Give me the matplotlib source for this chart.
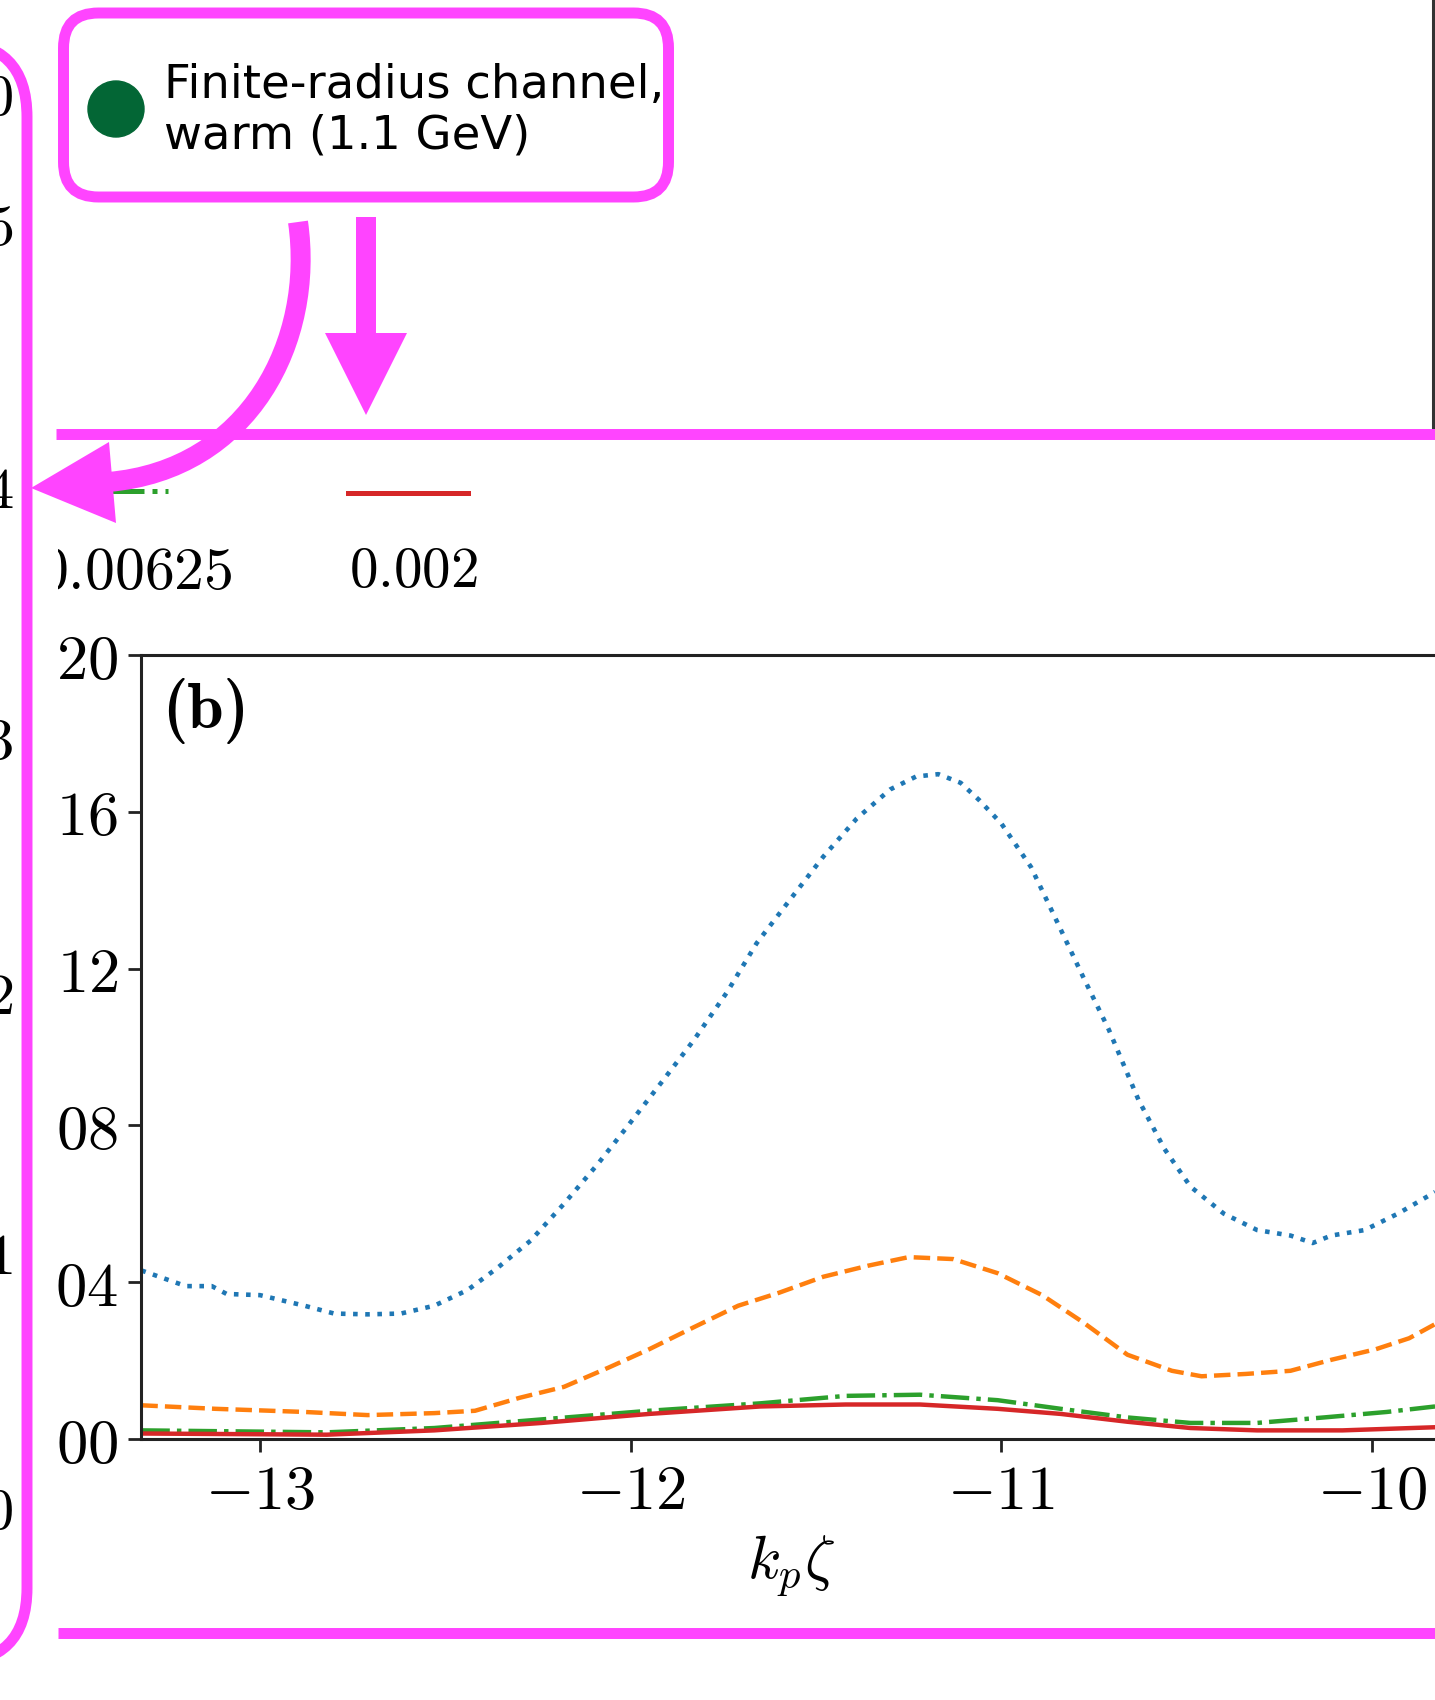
import matplotlib
matplotlib.use("Agg")
import matplotlib.pyplot as plt
from matplotlib.transforms import Affine2D
from matplotlib.patches import FancyBboxPatch, Polygon, Circle, PathPatch, Rectangle
from matplotlib.path import Path
from matplotlib.lines import Line2D

plt.rcParams['mathtext.fontset'] = 'cm'

# ---------------- data ----------------
blue_x = [-13.32, -13.26, -13.20, -13.13, -13.09, -13.00, -12.88, -12.80, -12.71, -12.62,
          -12.53, -12.44, -12.36, -12.27, -12.18, -12.09, -12.01, -11.92, -11.83, -11.74,
          -11.66, -11.57, -11.48, -11.39, -11.30, -11.23, -11.17, -11.11, -11.06, -11.00,
          -10.92, -10.85, -10.78, -10.71, -10.63, -10.56, -10.49, -10.40, -10.31, -10.22,
          -10.16, -10.11, -10.02, -9.93, -9.83]
blue_y = [0.043, 0.041, 0.039, 0.039, 0.037, 0.0367, 0.034, 0.032, 0.0318, 0.032,
          0.034, 0.038, 0.0436, 0.0506, 0.060, 0.070, 0.0796, 0.0906, 0.1017, 0.114,
          0.1265, 0.1376, 0.1486, 0.1583, 0.1657, 0.169, 0.1696, 0.1674, 0.163, 0.157,
          0.1459, 0.132, 0.118, 0.1044, 0.0865, 0.074, 0.0644, 0.0575, 0.0533, 0.0519,
          0.050, 0.0519, 0.0533, 0.0575, 0.063]

orange_x = [-13.32, -13.12, -12.88, -12.71, -12.53, -12.42, -12.30, -12.18, -12.06, -11.95,
            -11.83, -11.71, -11.60, -11.48, -11.36, -11.25, -11.13, -11.01, -10.89, -10.78,
            -10.66, -10.54, -10.46, -10.34, -10.22, -10.11, -9.99, -9.90, -9.83]
orange_y = [0.0086, 0.0077, 0.0069, 0.0061, 0.0066, 0.0072, 0.0105, 0.0133, 0.0182, 0.0229,
            0.0285, 0.034, 0.0373, 0.0414, 0.0442, 0.0464, 0.0459, 0.0423, 0.0367, 0.0298,
            0.0215, 0.0174, 0.016, 0.0166, 0.0174, 0.0202, 0.0229, 0.0257, 0.0293]

green_x = [-13.32, -12.82, -12.53, -12.24, -11.95, -11.65, -11.42, -11.22, -11.01, -10.84,
           -10.66, -10.49, -10.31, -10.13, -9.96, -9.83]
green_y = [0.0022, 0.0017, 0.0028, 0.005, 0.0072, 0.0091, 0.011, 0.0113, 0.0099, 0.0077,
           0.0055, 0.0041, 0.0041, 0.0055, 0.0069, 0.0083]

red_x = [-13.32, -12.82, -12.53, -12.24, -11.95, -11.65, -11.42, -11.22, -11.01, -10.84,
         -10.66, -10.49, -10.31, -10.08, -9.83]
red_y = [0.0014, 0.0011, 0.0022, 0.0041, 0.0064, 0.0083, 0.0088, 0.0088, 0.0077, 0.0064,
         0.0044, 0.0028, 0.0022, 0.0022, 0.003]

xticks = [-13, -12, -11, -10]
xtick_labels = [r'$-13$', r'$-12$', r'$-11$', r'$-10$']
yticks = [0.0, 0.04, 0.08, 0.12, 0.16, 0.20]
ytick_labels = [r'$00$', r'$04$', r'$08$', r'$12$', r'$16$', r'$20$']
legend_labels = [r'$0.00625$', r'$0.002$']
left_cut_labels = [r'$0$', r'$5$', r'$4$', r'$3$', r'$2$', r'$1$', r'$0$']
box_text = "Finite-radius channel,\nwarm (1.1 GeV)"
panel_label = '(b)'
xlabel = r'$k_p\zeta$'

# ---------------- layout ----------------
W, H, DPI = 1435, 1700, 100
MAG = '#ff44ff'
fig = plt.figure(figsize=(W / DPI, H / DPI), dpi=DPI)
fig.patch.set_facecolor('white')
px = Affine2D().scale(1, -1).translate(0, H).scale(1 / DPI) + fig.dpi_scale_trans

ax = fig.add_axes([141 / W, 1 - 1439 / H, 1300 / W, 784 / H])
ax.plot(blue_x, blue_y, ls=':', color='#1f77b4', lw=3.3)
ax.plot(orange_x, orange_y, ls='--', color='#ff7f0e', lw=3.2)
ax.plot(green_x, green_y, ls='-.', color='#2ca02c', lw=3.2)
ax.plot(red_x, red_y, ls='-', color='#d62728', lw=3.2)
ax.set_xlim(-13.321, -9.814)
ax.set_ylim(0, 0.20)
ax.set_xticks(xticks)
ax.set_xticklabels(xtick_labels)
ax.set_yticks(yticks)
ax.set_yticklabels(ytick_labels)
ax.tick_params(direction='out', length=9.5, width=2.0, labelsize=45, pad=7,
               top=False, right=False, color='#222222')
for s in ax.spines.values():
    s.set_linewidth(2.2)
    s.set_color('#222222')
ax.set_xlabel(xlabel, fontsize=44, labelpad=8)

# panel label (bold Computer Modern)
fig.text(162, 711, panel_label, transform=px, fontsize=47, ha='left', va='center',
         family='cmb10')

# legend fragment
fig.add_artist(Line2D([59, 168], [491, 491], transform=px, color='#2ca02c', lw=3.6, ls='-.'))
fig.add_artist(Line2D([348, 468], [493, 493], transform=px, color='#d62728', lw=3.6))
fig.text(38, 572, legend_labels[0], transform=px, fontsize=43, ha='left', va='center')
fig.text(349, 572, legend_labels[1], transform=px, fontsize=41, ha='left', va='center')
# crop edge of the source picture hides the start of the first label
fig.add_artist(Rectangle((33, 530), 25, 80, transform=px, fc='white', ec='none', zorder=4))

# partial labels of neighbouring axis at far left
for lab, yy in zip(left_cut_labels, [98, 228, 491, 742, 997, 1257, 1512]):
    fig.text(13, yy, lab, transform=px, fontsize=42, ha='right', va='center')

# right edge of upper frame
fig.add_artist(Line2D([1433, 1433], [0, 430], transform=px, color='#333333', lw=2.2))

# ---------------- magenta annotations ----------------
fig.add_artist(FancyBboxPatch((63.5, 13), 605, 184, boxstyle='round,pad=0,rounding_size=35',
                              transform=px, fc='white', ec=MAG, lw=7.9, zorder=5))
fig.add_artist(Circle((116, 109), 28, transform=px, color='#036635', zorder=6))
fig.text(164, 111, box_text, transform=px, fontsize=33.5, ha='left', va='center',
         linespacing=1.17, family='DejaVu Sans', zorder=6)

# straight arrow
fig.add_artist(Polygon([(356, 217), (376, 217), (376, 333), (407, 333), (366, 415),
                        (325, 333), (356, 333)], closed=True, transform=px,
                       fc=MAG, ec='none', zorder=7))
# curved arrow
curve = Path([(298, 222), (315, 340), (250, 470), (108, 482)],
             [Path.MOVETO, Path.CURVE4, Path.CURVE4, Path.CURVE4])
fig.add_artist(PathPatch(curve, transform=px, fc='none', ec=MAG, lw=14.4,
                         capstyle='butt', zorder=7))
fig.add_artist(Polygon([(31, 488), (109, 442), (116, 523)], closed=True, transform=px,
                       fc=MAG, ec='none', zorder=7))

# horizontal separators
fig.add_artist(Line2D([56, W], [434, 434], transform=px, color=MAG, lw=7.9,
                      solid_capstyle='butt', zorder=7))
fig.add_artist(Line2D([58, W], [1633, 1633], transform=px, color=MAG, lw=7.9,
                      solid_capstyle='butt', zorder=7))
# left rounded frame (mostly off-canvas)
fig.add_artist(FancyBboxPatch((-400, 42), 427, 1621, boxstyle='round,pad=0,rounding_size=75',
                              transform=px, fc='none', ec=MAG, lw=7.9, zorder=7))

fig.savefig('out.png', dpi=DPI, facecolor='white')
